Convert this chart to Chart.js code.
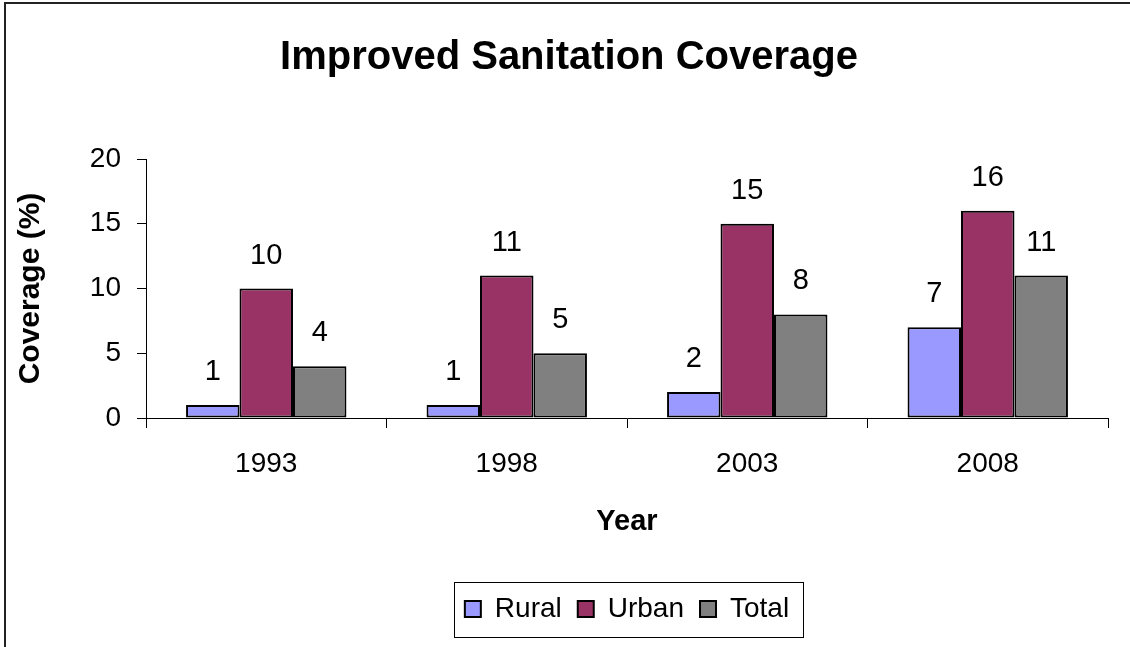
<!DOCTYPE html>
<html>
<head>
<meta charset="utf-8">
<script src="https://cdn.jsdelivr.net/npm/chart.js@4/dist/chart.umd.min.js"></script>
<style>
  html, body { margin: 0; padding: 0; background: #fff; }
  #wrap { width: 1130px; height: 647px; position: relative; }
  canvas { display: block; }
</style>
</head>
<body>
<div id="wrap"><canvas id="c" width="1130" height="647"></canvas></div>
<script>
// Improved sanitation coverage (%) by survey year
const years = ['1993', '1998', '2003', '2008'];
const rural = [1, 1, 2, 7];
const urban = [10, 11, 15, 16];
const total = [4, 5, 8, 11];
const yTicks = [0, 5, 10, 15, 20];

const FONT = "'Liberation Sans', Arial, Helvetica, sans-serif";
Chart.defaults.font.family = FONT;
Chart.defaults.color = '#000';

// Frame lines along the top and left edge of the chart
const framePlugin = {
  id: 'frame',
  beforeDraw(chart) {
    const ctx = chart.ctx;
    ctx.save();
    ctx.fillStyle = '#fff';
    ctx.fillRect(0, 0, chart.width, chart.height);
    ctx.strokeStyle = '#222';
    ctx.lineWidth = 2;
    ctx.beginPath();
    ctx.moveTo(5, chart.height);
    ctx.lineTo(5, 3);
    ctx.lineTo(chart.width, 3);
    ctx.stroke();
    ctx.restore();
  }
};

// Title and legend are centred over the plot rather than the whole canvas
const centreBlocks = {
  id: 'centreBlocks',
  afterLayout(chart) {
    const ca = chart.chartArea;
    const t = chart.titleBlock;
    if (t) { t.left = 30; t.right = ca.right; t.width = t.right - t.left; }
    const lg = chart.legend;
    if (lg) { lg.left = ca.left; lg.right = ca.right; lg.width = lg.right - lg.left; }
  }
};

// Value written above every bar
const valueLabels = {
  id: 'valueLabels',
  afterDatasetsDraw(chart) {
    const ctx = chart.ctx;
    ctx.save();
    ctx.font = '29px ' + FONT;
    ctx.fillStyle = '#000';
    ctx.textAlign = 'center';
    ctx.textBaseline = 'middle';
    chart.data.datasets.forEach((ds, i) => {
      const meta = chart.getDatasetMeta(i);
      meta.data.forEach((bar, j) => {
        ctx.fillText(String(ds.data[j]), bar.x, bar.y - 33);
      });
    });
    ctx.restore();
  }
};

// Thin box around the legend entries
const legendBox = {
  id: 'legendBox',
  afterDraw(chart) {
    const lg = chart.legend;
    if (!lg || !lg.legendHitBoxes || !lg.legendHitBoxes.length) return;
    const hb = lg.legendHitBoxes;
    let l = Infinity, r = -Infinity, t = Infinity, b = -Infinity;
    hb.forEach(h => {
      l = Math.min(l, h.left);
      r = Math.max(r, h.left + h.width);
      t = Math.min(t, h.top);
      b = Math.max(b, h.top + h.height);
    });
    const ctx = chart.ctx;
    ctx.save();
    ctx.strokeStyle = '#000';
    ctx.lineWidth = 1;
    ctx.strokeRect(Math.round(l - 11) + 0.5, Math.round(t - 13) + 0.5,
                   Math.round(r - l + 25), Math.round(b - t + 27));
    ctx.restore();
  }
};

new Chart(document.getElementById('c'), {
  type: 'bar',
  data: {
    labels: years,
    datasets: [
      { label: 'Rural', data: rural, backgroundColor: '#9999FF' },
      { label: 'Urban', data: urban, backgroundColor: '#993366' },
      { label: 'Total', data: total, backgroundColor: '#808080' }
    ].map(d => Object.assign(d, {
      borderColor: '#000', borderWidth: 2, borderSkipped: false,
      categoryPercentage: 0.667, barPercentage: 1.0
    }))
  },
  options: {
    responsive: false,
    animation: false,
    devicePixelRatio: 1,
    layout: { padding: { left: 0, right: 22, top: 0, bottom: 14 } },
    plugins: {
      title: {
        display: true,
        text: 'Improved Sanitation Coverage',
        font: { size: 40, weight: 'bold', family: FONT },
        color: '#000',
        padding: { top: 34, bottom: 77 }
      },
      legend: {
        position: 'bottom',
        labels: {
          font: { size: 28, family: FONT },
          color: '#000',
          boxWidth: 16,
          boxHeight: 16,
          padding: 16
        }
      },
      tooltip: { enabled: false }
    },
    scales: {
      x: {
        grid: {
          display: true, drawOnChartArea: false, drawTicks: true,
          tickLength: 10, color: '#000', offset: true
        },
        border: { display: true, color: '#000', width: 1 },
        ticks: { font: { size: 28, family: FONT }, color: '#000', padding: 19 },
        title: {
          display: true, text: 'Year',
          font: { size: 29, weight: 'bold', family: FONT }, color: '#000',
          padding: { top: 0, bottom: 40 }
        },
        afterFit(scale) { scale.height = 161; }
      },
      y: {
        min: 0, max: 20,
        afterBuildTicks(scale) { scale.ticks = yTicks.map(v => ({ value: v })); },
        grid: {
          display: true, drawOnChartArea: false, drawTicks: true,
          tickLength: 9, color: '#000'
        },
        border: { display: true, color: '#000', width: 1 },
        ticks: { font: { size: 28, family: FONT }, color: '#000', padding: 16 },
        title: {
          display: true, text: 'Coverage (%)',
          font: { size: 30, weight: 'bold', family: FONT }, color: '#000',
          padding: { top: 13, bottom: 0 }
        },
        afterFit(scale) { scale.width = 146; }
      }
    }
  },
  plugins: [framePlugin, centreBlocks, valueLabels, legendBox]
});
</script>
</body>
</html>
